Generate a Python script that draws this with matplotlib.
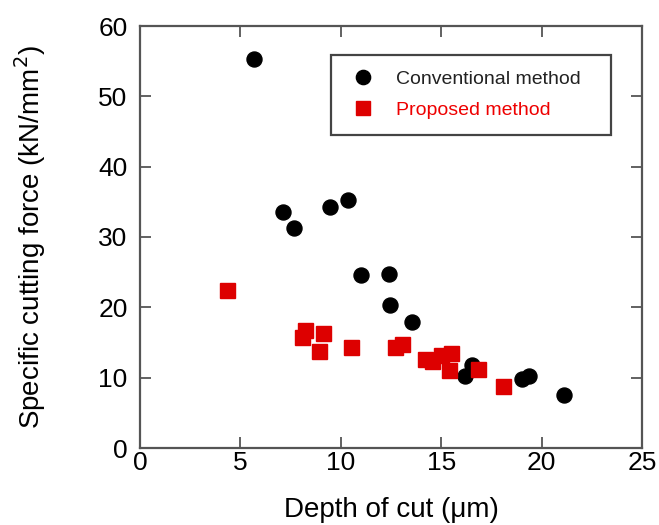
import matplotlib
matplotlib.use("Agg")
import matplotlib.pyplot as plt

plt.rcParams['font.family'] = ['Liberation Sans', 'DejaVu Sans']

conv_x = [5.67, 7.11, 7.66, 9.47, 10.38, 11.03, 12.39, 12.47, 13.57, 16.17, 16.55, 19.04, 19.37, 21.14]
conv_y = [55.3, 33.5, 31.3, 34.3, 35.2, 24.6, 24.8, 20.3, 17.9, 10.2, 11.8, 9.8, 10.2, 7.6]

prop_x = [4.34, 8.24, 8.09, 9.09, 8.92, 10.53, 12.69, 13.07, 14.18, 14.56, 15.01, 15.51, 15.37, 16.83, 18.08]
prop_y = [22.5, 16.8, 15.8, 16.4, 13.8, 14.4, 14.4, 14.8, 12.6, 12.4, 13.2, 13.5, 11.1, 11.3, 8.8]

x_ticks = [0, 5, 10, 15, 20, 25]
y_ticks = [0, 10, 20, 30, 40, 50, 60]

fig = plt.figure(figsize=(6.59, 5.25), dpi=100)
ax = fig.add_axes([140/659, 77/525, 502/659, 422/525])

ax.plot(conv_x, conv_y, 'o', color='black', markersize=10.8, linestyle='none',
        label='Conventional method', zorder=3)
ax.plot(prop_x, prop_y, 's', color='#dd0000', markersize=10.8, linestyle='none',
        label='Proposed method', zorder=3)

ax.set_xlim(0, 25)
ax.set_ylim(0, 60)
ax.set_xticks(x_ticks)
ax.set_yticks(y_ticks)
ax.tick_params(direction='in', length=8, width=1.3, color='#555555',
               top=True, right=True, labelsize=19)
ax.tick_params(axis='x', pad=2)
ax.tick_params(axis='y', pad=9)
for s in ax.spines.values():
    s.set_color('#555555')
    s.set_linewidth(1.6)

ax.set_xlabel('Depth of cut (μm)', fontsize=20, labelpad=16)
ax.set_ylabel('Specific cutting force (kN/mm$^2$)', fontsize=20, labelpad=36)

leg_h = 78 / 422
leg = ax.legend(loc='upper left', bbox_to_anchor=(0.380, 0.932 - leg_h, 280 / 502, leg_h),
                mode='expand', borderaxespad=0,
                fancybox=False, framealpha=1, edgecolor='#444444', fontsize=14,
                borderpad=0.8, handletextpad=0.85, labelspacing=0.7, handlelength=1.7,
                markerscale=0.95)
leg.get_frame().set_linewidth(1.6)
leg.get_texts()[0].set_color('#222222')
leg.get_texts()[1].set_color('#ee0000')

fig.savefig('out.png', dpi=100)
